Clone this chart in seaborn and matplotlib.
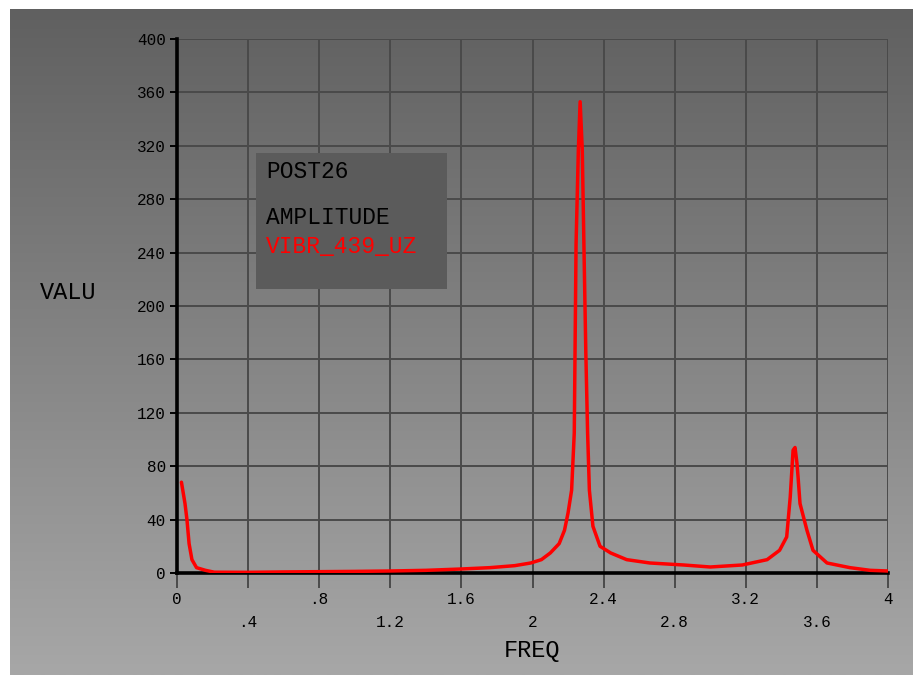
import numpy as np
import pandas as pd
import matplotlib.pyplot as plt
from matplotlib.colors import LinearSegmentedColormap
from matplotlib.patches import Rectangle
import seaborn as sns

# ── data ──────────────────────────────────────────────────────────────────────
freq = [0.025, 0.035, 0.045, 0.056, 0.068, 0.084, 0.11, 0.16, 0.21, 0.4, 0.6,
        0.8, 1.0, 1.2, 1.4, 1.6, 1.76, 1.9, 1.99, 2.05, 2.10, 2.15, 2.18, 2.20,
        2.22, 2.235, 2.245, 2.258, 2.268, 2.28, 2.29, 2.30, 2.31, 2.32, 2.34,
        2.38, 2.44, 2.53, 2.66, 2.85, 3.0, 3.18, 3.32, 3.39, 3.43, 3.45, 3.466,
        3.477, 3.488, 3.494, 3.505, 3.544, 3.578, 3.657, 3.786, 3.9, 4.0]
amp = [68, 60, 52, 40, 22, 10, 4, 2, 0.6, 0.5, 0.8,
       1.0, 1.2, 1.5, 2.0, 3.0, 4.0, 5.5, 7.5, 10, 15, 22, 32, 45,
       62, 105, 246, 317, 353, 317, 240, 165, 105, 62, 35,
       20, 15, 10, 7.5, 6, 4.5, 6, 10, 17, 27, 57, 92,
       94, 82, 72, 52, 32, 17, 7.5, 4, 2, 1.5]

xticks_row1 = [0, 0.8, 1.6, 2.4, 3.2, 4.0]
xlabels_row1 = ["0", ".8", "1.6", "2.4", "3.2", "4"]
xticks_row2 = [0.4, 1.2, 2.0, 2.8, 3.6]
xlabels_row2 = [".4", "1.2", "2", "2.8", "3.6"]
yticks = [0, 40, 80, 120, 160, 200, 240, 280, 320, 360, 400]

df = pd.DataFrame({"FREQ": freq, "VALU": amp})

sns.set_theme(style="white")
plt.rcParams["font.family"] = ["Liberation Mono", "DejaVu Sans Mono"]

W, H = 913, 675
fig = plt.figure(figsize=(W / 100, H / 100), dpi=100, facecolor="white")

# ── gradient background (white border on top / left) ───────────────────────
bg = fig.add_axes([10 / W, 0, (W - 10) / W, (H - 9) / H], zorder=0)
cmap = LinearSegmentedColormap.from_list("bg", ["#606060", "#a7a7a7"])
grad = np.linspace(0, 1, 256).reshape(-1, 1)
bg.imshow(grad, aspect="auto", cmap=cmap, extent=[0, 1, 0, 1], origin="upper")
bg.set_axis_off()

# ── main axes ───────────────────────────────────────────────────────────────
x0, x1, y0, y1 = 177, 888, 573, 39
ax = fig.add_axes([x0 / W, (H - y0) / H, (x1 - x0) / W, (y0 - y1) / H], zorder=1)
ax.set_facecolor("none")

sns.lineplot(data=df, x="FREQ", y="VALU", ax=ax, color="#ff0000",
             linewidth=2.5, estimator=None, sort=False, zorder=5)

ax.set_xlim(0, 4)
ax.set_ylim(0, 400)

ax.set_xticks(xticks_row1, labels=xlabels_row1)
ax.set_xticks(xticks_row2, labels=xlabels_row2, minor=True)
ax.set_yticks(yticks, labels=[str(v) for v in yticks])

ax.grid(True, which="both", color="#4a4a4a", linewidth=1.4)
for s in ["top", "right"]:
    ax.spines[s].set_visible(False)
for s in ["left", "bottom"]:
    ax.spines[s].set_color("black")
    ax.spines[s].set_linewidth(2.6)
    ax.spines[s].set_zorder(4)

ax.tick_params(axis="x", which="both", direction="out", length=11, width=1.4,
               color="#4a4a4a", labelsize=11.5, labelcolor="black")
ax.tick_params(axis="x", which="major", pad=3)
ax.tick_params(axis="x", which="minor", pad=19)
ax.tick_params(axis="y", direction="out", length=5, width=1.4, color="black",
               labelsize=11.5, labelcolor="black", pad=3)
ax.tick_params(left=True, bottom=True)
ax.tick_params(axis="x", which="minor", bottom=True)

ax.set_xlabel("")
ax.set_ylabel("")

# axis titles in the ANSYS style
fig.text(68 / W, 1 - 292 / H, "VALU", fontsize=17, ha="center", va="center",
         color="black")
fig.text(532 / W, 1 - 651 / H, "FREQ", fontsize=17, ha="center", va="center",
         color="black")

# ── legend box ──────────────────────────────────────────────────────────────
fig.patches.append(Rectangle((256 / W, 1 - 289 / H), (447 - 256) / W,
                             (289 - 153) / H, transform=fig.transFigure,
                             facecolor="#5b5b5b", edgecolor="none", zorder=3))
fig.text(266 / W, 1 - 172 / H, "POST26", fontsize=16.5, va="center",
         color="black", zorder=4)
fig.text(266 / W, 1 - 217 / H, "AMPLITUDE", fontsize=16.5, va="center",
         color="black", zorder=4)
fig.text(266 / W, 1 - 246 / H, "VIBR_439_UZ", fontsize=16.5, va="center",
         color="#ff0000", zorder=4)

fig.savefig("out.png", dpi=100, facecolor="white")
